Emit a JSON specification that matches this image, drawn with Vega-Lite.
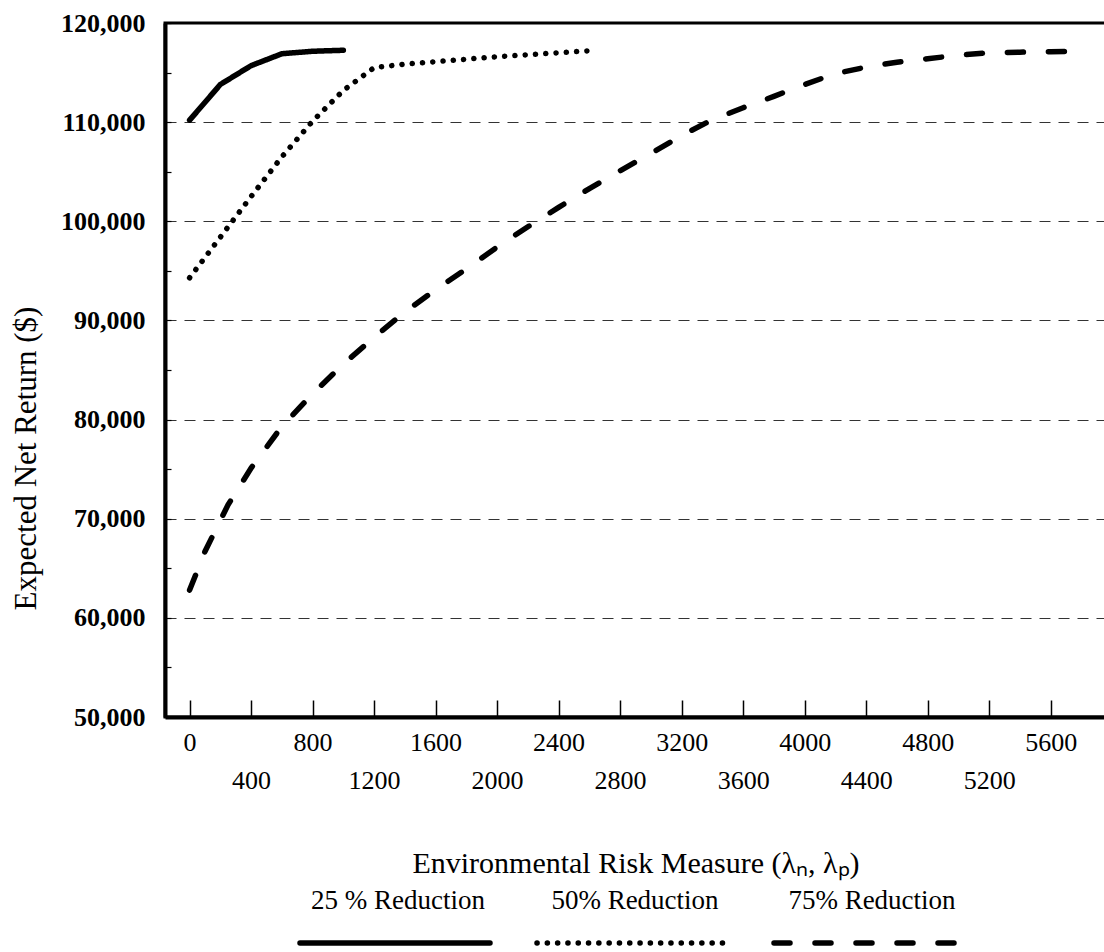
{
  "$schema": "https://vega.github.io/schema/vega-lite/v6.json",
  "width": 941,
  "height": 694,
  "padding": {"left": 10, "top": 10, "right": 0, "bottom": 5},
  "background": "white",
  "config": {
    "view": {"stroke": "black", "strokeWidth": 3},
    "font": "Liberation Serif",
    "legend": {"layout": {"bottom": {"anchor": "middle"}}}
  },
  "data": {
    "values": [
      {"series": "25 % Reduction", "risk": 0, "ret": 110200},
      {"series": "25 % Reduction", "risk": 200, "ret": 113800},
      {"series": "25 % Reduction", "risk": 400, "ret": 115700},
      {"series": "25 % Reduction", "risk": 600, "ret": 116900},
      {"series": "25 % Reduction", "risk": 800, "ret": 117150},
      {"series": "25 % Reduction", "risk": 1000, "ret": 117250},
      {"series": "50% Reduction", "risk": 0, "ret": 94300},
      {"series": "50% Reduction", "risk": 200, "ret": 98400},
      {"series": "50% Reduction", "risk": 400, "ret": 102500},
      {"series": "50% Reduction", "risk": 600, "ret": 106500},
      {"series": "50% Reduction", "risk": 800, "ret": 110100},
      {"series": "50% Reduction", "risk": 1000, "ret": 113200},
      {"series": "50% Reduction", "risk": 1200, "ret": 115500},
      {"series": "50% Reduction", "risk": 1400, "ret": 115850},
      {"series": "50% Reduction", "risk": 1600, "ret": 116100},
      {"series": "50% Reduction", "risk": 2000, "ret": 116600},
      {"series": "50% Reduction", "risk": 2400, "ret": 117000},
      {"series": "50% Reduction", "risk": 2600, "ret": 117200},
      {"series": "75% Reduction", "risk": 0, "ret": 62800},
      {"series": "75% Reduction", "risk": 100, "ret": 66700},
      {"series": "75% Reduction", "risk": 250, "ret": 71400},
      {"series": "75% Reduction", "risk": 400, "ret": 75100},
      {"series": "75% Reduction", "risk": 600, "ret": 79300},
      {"series": "75% Reduction", "risk": 800, "ret": 82600},
      {"series": "75% Reduction", "risk": 1000, "ret": 85600},
      {"series": "75% Reduction", "risk": 1200, "ret": 88300},
      {"series": "75% Reduction", "risk": 1400, "ret": 90850},
      {"series": "75% Reduction", "risk": 1600, "ret": 93100},
      {"series": "75% Reduction", "risk": 1800, "ret": 95200},
      {"series": "75% Reduction", "risk": 2000, "ret": 97400},
      {"series": "75% Reduction", "risk": 2200, "ret": 99450},
      {"series": "75% Reduction", "risk": 2400, "ret": 101400},
      {"series": "75% Reduction", "risk": 2600, "ret": 103300},
      {"series": "75% Reduction", "risk": 2800, "ret": 105100},
      {"series": "75% Reduction", "risk": 3000, "ret": 106850},
      {"series": "75% Reduction", "risk": 3200, "ret": 108650},
      {"series": "75% Reduction", "risk": 3400, "ret": 110250},
      {"series": "75% Reduction", "risk": 3600, "ret": 111450},
      {"series": "75% Reduction", "risk": 3800, "ret": 112600},
      {"series": "75% Reduction", "risk": 4000, "ret": 113800},
      {"series": "75% Reduction", "risk": 4200, "ret": 114900},
      {"series": "75% Reduction", "risk": 4400, "ret": 115550},
      {"series": "75% Reduction", "risk": 4600, "ret": 116050},
      {"series": "75% Reduction", "risk": 4800, "ret": 116400},
      {"series": "75% Reduction", "risk": 5000, "ret": 116750},
      {"series": "75% Reduction", "risk": 5200, "ret": 117000},
      {"series": "75% Reduction", "risk": 5400, "ret": 117060},
      {"series": "75% Reduction", "risk": 5600, "ret": 117100},
      {"series": "75% Reduction", "risk": 5800, "ret": 117150}
    ]
  },
  "mark": {"type": "line", "color": "black", "strokeWidth": 5.5, "strokeCap": "round", "clip": true},
  "encoding": {
    "x": {
      "field": "risk",
      "type": "quantitative",
      "scale": {"domain": [-160, 5960], "nice": false, "zero": false},
      "axis": {
        "title": "Environmental Risk Measure  (λₙ, λₚ)",
        "values": [0, 400, 800, 1200, 1600, 2000, 2400, 2800, 3200, 3600, 4000, 4400, 4800, 5200, 5600],
        "format": "d",
        "grid": false,
        "domainWidth": 4,
        "domainColor": "black",
        "tickSize": -17,
        "tickColor": "black",
        "tickWidth": 1.5,
        "labelFont": "Liberation Serif",
        "labelFontSize": 26,
        "labelColor": "black",
        "labelFlush": false,
        "labelOverlap": false,
        "labelPadding": {"condition": {"test": "datum.value % 800 !== 0", "value": 67}, "value": 29},
        "titleFont": "Liberation Serif",
        "titleFontSize": 30,
        "titleFontWeight": "normal",
        "titleColor": "black",
        "titlePadding": 55
      }
    },
    "y": {
      "field": "ret",
      "type": "quantitative",
      "scale": {"domain": [50000, 120000], "nice": false, "zero": false},
      "axis": {
        "title": "Expected Net Return ($)",
        "values": [50000, 55000, 60000, 65000, 70000, 75000, 80000, 85000, 90000, 95000, 100000, 105000, 110000, 115000, 120000],
        "labelExpr": "datum.value % 10000 === 0 ? format(datum.value, ',') : ''",
        "grid": true,
        "gridDash": [11, 8],
        "gridColor": "#333333",
        "gridWidth": 1.2,
        "gridOpacity": {"condition": {"test": "datum.value % 10000 === 0 && datum.value > 50000 && datum.value < 120000", "value": 1}, "value": 0},
        "domainWidth": 4,
        "domainColor": "black",
        "tickSize": -6,
        "tickColor": "black",
        "tickWidth": 1.2,
        "labelFont": "Liberation Serif",
        "labelFontSize": 26,
        "labelFontWeight": "bold",
        "labelColor": "black",
        "labelPadding": 26,
        "labelFlush": false,
        "labelOverlap": false,
        "titleFont": "Liberation Serif",
        "titleFontSize": 31,
        "titleFontWeight": "normal",
        "titleColor": "black",
        "titlePadding": 18,
        "titleY": 435
      }
    },
    "strokeDash": {
      "field": "series",
      "type": "nominal",
      "scale": {
        "domain": ["25 % Reduction", "50% Reduction", "75% Reduction"],
        "range": [[1, 0], [0.1, 10.2], [16, 25]]
      },
      "legend": {
        "title": null,
        "orient": "bottom",
        "direction": "horizontal",
        "symbolType": "stroke",
        "symbolSize": 36100,
        "symbolStrokeWidth": 5.5,
        "symbolStrokeColor": "black",
        "labelFont": "Liberation Serif",
        "labelFontSize": 27,
        "labelColor": "black",
        "labelAlign": "center",
        "labelOffset": -95,
        "labelLimit": 300,
        "columnPadding": 25,
        "offset": -33,
        "encode": {
          "labels": {"update": {"dy": {"value": -42}}},
          "symbols": {"update": {"strokeCap": {"value": "round"}}}
        }
      }
    }
  }
}
